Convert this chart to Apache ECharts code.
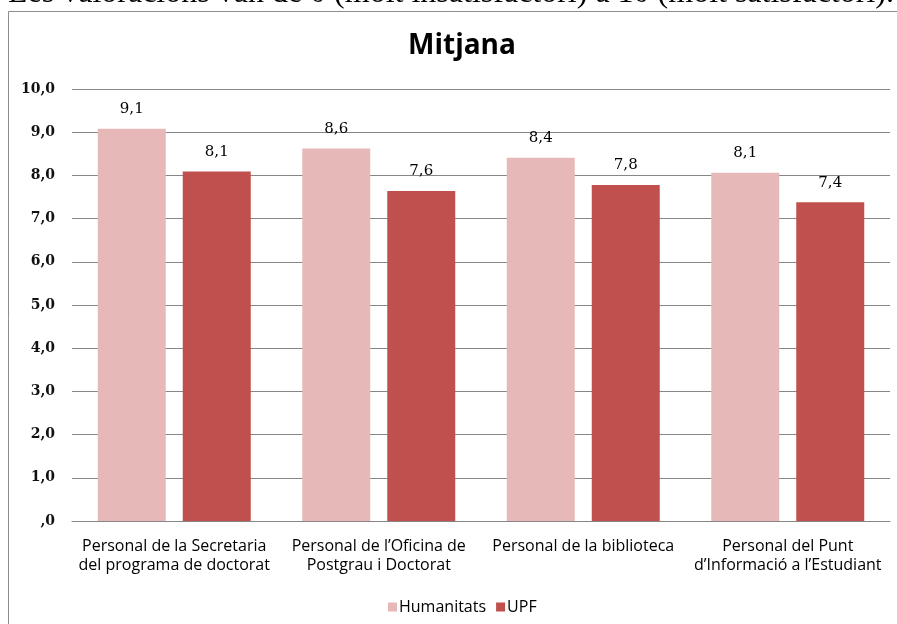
<!DOCTYPE html>
<html>
<head>
<meta charset="utf-8">
<script src="https://cdn.jsdelivr.net/npm/echarts@6/dist/echarts.min.js"></script>
<style>
  html, body { margin: 0; padding: 0; background: #fff; }
  #chart { width: 897px; height: 624px; }
</style>
</head>
<body>
<div id="chart"></div>
<script>
// categories (x axis)
const categories = [
  'Personal de la Secretaria\ndel programa de doctorat',
  'Personal de l\u2019Oficina de\nPostgrau i Doctorat',
  'Personal de la biblioteca',
  'Personal del Punt\nd\u2019Informaci\u00f3 a l\u2019Estudiant'
]
// series values
const humanitats = [9.08, 8.62, 8.41, 8.06]
const upf = [8.09, 7.64, 7.78, 7.38]
// y axis
const yMin = 0
const yMax = 10
const yStep = 1

const comma = v => v === 0 ? ',0' : v.toFixed(1).replace('.', ',')

const chart = echarts.init(document.getElementById('chart'))
const sans = '"Open Sans", Lato, sans-serif'
const serif = '"DejaVu Serif", serif'

const option = {
  animation: false,
  textStyle: { fontFamily: sans },
  // 边框 + 上方被截掉的一行文字
  graphic: [
    {
      type: 'rect',
      shape: { x: 8.5, y: 11.5, width: 960, height: 700 },
      style: { fill: 'none', stroke: '#8c8c8c', lineWidth: 1 }
    },
    {
      type: 'text',
      style: {
        x: 8,
        y: -6,
        verticalAlign: 'middle',
        text: 'Les valoracions van de 0 (molt insatisfactori) a 10 (molt satisfactori).',
        font: '32px "Liberation Serif", serif',
        fill: '#000'
      }
    }
  ],
  title: {
    text: 'Mitjana',
    left: 457,
    textAlign: 'center',
    top: 27,
    textStyle: { fontFamily: sans, fontSize: 28, fontWeight: 'bold', color: '#000' }
  },
  legend: {
    bottom: 4,
    left: 383,
    itemWidth: 9,
    itemHeight: 9,
    itemGap: 10,
    icon: 'rect',
    textStyle: { fontFamily: sans, fontSize: 16, color: '#000', padding: [0, 0, 0, -3] },
    data: ['Humanitats', 'UPF']
  },
  grid: { left: 72, right: 7, top: 89, bottom: 103 },
  xAxis: {
    type: 'category',
    data: categories,
    axisLine: { lineStyle: { color: '#868686' } },
    axisTick: { show: false },
    axisLabel: {
      interval: 0,
      margin: 16,
      fontFamily: sans,
      fontSize: 16,
      lineHeight: 19,
      color: '#000'
    }
  },
  yAxis: {
    type: 'value',
    min: yMin,
    max: yMax,
    interval: yStep,
    axisLine: { show: false },
    axisTick: { show: false },
    splitLine: { lineStyle: { color: '#868686', width: 1 } },
    axisLabel: {
      margin: 17,
      fontFamily: serif,
      fontSize: 14,
      fontWeight: 'bold',
      color: '#111',
      formatter: comma
    }
  },
  series: [
    {
      name: 'Humanitats',
      type: 'bar',
      data: humanitats,
      barWidth: 68,
      barGap: '25%',
      itemStyle: { color: '#e6b9b8' },
      label: {
        show: true,
        position: 'top',
        distance: 12,
        fontFamily: serif,
        fontSize: 15,
        color: '#000',
        formatter: p => comma(Math.round(p.value * 10) / 10)
      }
    },
    {
      name: 'UPF',
      type: 'bar',
      data: upf,
      barWidth: 68,
      itemStyle: { color: '#c0504d' },
      label: {
        show: true,
        position: 'top',
        distance: 12,
        fontFamily: serif,
        fontSize: 15,
        color: '#000',
        formatter: p => comma(Math.round(p.value * 10) / 10)
      }
    }
  ]
}
chart.setOption(option)
</script>
</body>
</html>
